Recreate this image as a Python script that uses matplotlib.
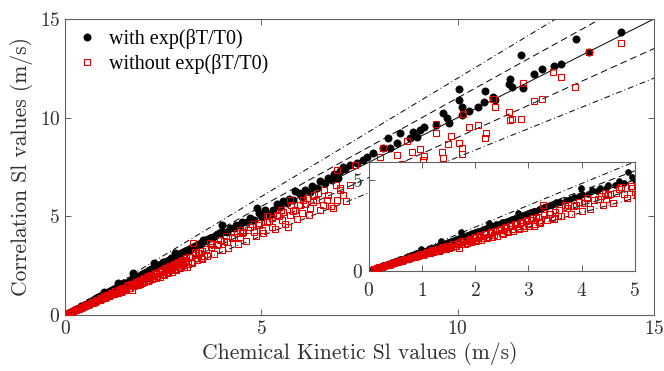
import matplotlib
matplotlib.use("Agg")
import matplotlib.pyplot as plt
import numpy as np

# laminar flame speed, (chemical kinetic value, correlation value) in m/s
with_x = [0.05, 0.1, 0.15, 0.2, 0.25, 0.3, 0.35, 0.4, 0.45, 0.5, 0.55, 0.6, 0.68, 0.75, 0.8,
          0.9, 0.98, 1.1, 1.2, 1.3, 1.36, 1.45, 1.55, 1.65, 1.74, 1.85, 1.95, 2.05, 2.15, 2.27,
          2.4, 2.5, 2.6, 2.7, 2.8, 2.9, 3.0, 3.1, 3.2, 3.3, 3.4, 3.52, 3.57, 3.78, 3.95, 3.99,
          4.12, 4.29, 4.46, 4.63, 4.8, 4.88, 5.01, 5.22, 5.3, 5.47, 5.64, 5.81, 5.86, 6.03,
          6.24, 6.41, 6.62, 6.79, 6.96, 7.09, 7.13, 7.26, 7.43, 7.6, 7.68, 7.85, 8.1, 8.23,
          8.28, 8.45, 8.53, 8.79, 8.87, 8.96, 9.04, 9.15, 9.45, 9.63, 9.72, 9.78, 10.04, 10.04,
          10.12, 10.12, 10.3, 10.52, 10.68, 10.7, 10.89, 10.89, 10.95, 11.31, 11.33, 11.38,
          11.62, 11.65, 11.94, 12.14, 12.44, 12.63, 13.0, 13.34, 14.16]
with_y = [0.05, 0.11, 0.16, 0.21, 0.27, 0.32, 0.37, 0.43, 0.48, 0.53, 0.58, 0.64, 0.67, 0.8, 0.85,
          0.96, 1.18, 1.17, 1.28, 1.39, 1.64, 1.53, 1.64, 1.75, 2.11, 1.97, 2.07, 2.18, 2.28, 2.62,
          2.55, 2.66, 2.76, 2.87, 3.16, 3.08, 3.18, 3.29, 3.4, 3.5, 3.6, 3.8, 3.8, 3.97, 4.14, 4.56,
          4.22, 4.39, 4.56, 4.73, 4.81, 5.41, 4.98, 5.07, 5.32, 5.49, 5.66, 5.83, 6.3, 6.0,
          6.25, 6.42, 6.67, 6.84, 6.93, 7.52, 7.38, 7.6, 7.69, 7.86, 8.02, 8.2, 8.45, 8.96,
          8.45, 8.7, 9.21, 8.96, 9.29, 9.04, 9.38, 9.54, 9.63, 10.22, 9.97, 9.72, 11.44, 10.9,
          10.53, 10.15, 10.35, 10.56, 10.81, 11.35, 11.06, 11.01, 10.9, 11.71, 11.95, 11.57,
          13.18, 11.52, 12.21, 12.48, 12.64, 12.72, 13.99, 13.31, 14.36]
# crowded part of the black band (mostly hidden under the red squares)
with_dense_x = [0.08, 0.22, 0.28, 0.42, 0.48, 0.62, 0.7, 0.85, 0.95, 1.05, 1.15, 1.25, 1.33, 1.42,
                1.5, 1.6, 1.7, 1.8, 1.9, 2.0, 2.1, 2.2, 2.32, 2.45, 2.55, 2.65, 2.75, 2.85, 2.95,
                3.05, 3.15, 3.25, 3.35, 3.45, 3.6, 3.7, 3.85, 4.0, 4.2, 4.35, 4.5, 4.7, 4.95, 5.1,
                5.4, 5.55, 5.7, 5.95, 6.1, 6.3, 6.5, 6.7, 6.85, 7.0]
with_dense_y = [0.09, 0.23, 0.3, 0.44, 0.5, 0.66, 0.74, 0.9, 1.0, 1.1, 1.21, 1.3, 1.4, 1.5,
                1.6, 1.68, 1.8, 1.88, 2.0, 2.12, 2.2, 2.33, 2.44, 2.6, 2.7, 2.8, 2.9, 3.02, 3.12,
                3.22, 3.3, 3.45, 3.55, 3.62, 3.8, 3.9, 4.05, 4.2, 4.42, 4.55, 4.7, 4.92, 5.15, 5.3,
                5.6, 5.78, 5.9, 6.2, 6.33, 6.55, 6.8, 6.95, 7.15, 7.3]

without_x = [0.05, 0.1, 0.12, 0.18, 0.2, 0.25, 0.3, 0.32, 0.38, 0.4, 0.45, 0.5, 0.52, 0.58, 0.6,
             0.65, 0.7, 0.72, 0.78, 0.8, 0.85, 0.9, 0.92, 0.98, 1.0, 1.05, 1.1, 1.12, 1.2, 1.22,
             1.3, 1.35, 1.4, 1.45, 1.5, 1.55, 1.6, 1.65, 1.7, 1.72, 1.8, 1.85, 1.9, 1.95, 2.0,
             2.05, 2.1, 2.15, 2.2, 2.25, 2.3, 2.35, 2.42, 2.45, 2.5, 2.55, 2.6, 2.65, 2.7, 2.75,
             2.8, 2.85, 2.9, 2.95, 3.0, 3.05, 3.1, 3.15, 3.2, 3.27, 3.3, 3.35, 3.4, 3.45, 3.5,
             3.55, 3.69, 3.86, 3.95, 4.12, 4.24, 4.37, 4.46, 4.54, 4.71, 4.8, 4.92, 5.01, 5.14,
             5.26, 5.26, 5.39, 5.52, 5.56, 5.69, 5.73, 5.73, 5.86, 5.98, 6.03, 6.15, 6.24, 6.32,
             6.45, 6.58, 6.66, 6.83, 6.92, 6.92, 7.0, 7.09, 7.38, 8.02, 8.1, 8.28, 8.45, 8.57,
             8.72, 8.83, 8.91, 9.04, 9.12, 9.15, 9.17, 9.4, 9.45, 9.45, 9.59, 9.63, 9.74, 9.82,
             10.02, 10.1, 10.1, 10.13, 10.3, 10.52, 10.69, 10.72, 10.91, 10.95, 11.31, 11.33,
             11.39, 11.6, 11.65, 11.94, 12.14, 12.43, 12.63, 12.98, 13.34, 14.16]
without_y = [0.05, 0.09, 0.11, 0.16, 0.19, 0.23, 0.28, 0.3, 0.34, 0.37, 0.42, 0.46, 0.49, 0.53, 0.56,
             0.6, 0.66, 0.63, 0.72, 0.75, 0.78, 0.84, 0.8, 0.92, 0.95, 0.9, 1.03, 0.97, 1.12, 1.05,
             1.2, 1.12, 1.3, 1.22, 1.38, 1.3, 1.5, 1.38, 1.27, 1.58, 1.66, 1.52, 1.75, 1.62, 1.86,
             1.7, 1.95, 1.78, 2.04, 1.85, 2.15, 1.96, 1.94, 2.25, 2.1, 2.38, 2.2, 2.45, 2.28, 2.55,
             2.35, 2.62, 2.45, 2.75, 2.55, 2.8, 2.45, 2.92, 2.7, 3.63, 3.05, 2.8, 3.12, 2.9, 3.25,
             3.0, 3.63, 3.55, 3.8, 3.72, 3.89, 4.14, 3.97, 4.22, 4.48, 4.22, 4.65, 4.31, 4.73,
             4.9, 4.48, 5.07, 4.81, 5.24, 4.48, 5.83, 5.07, 5.32, 5.58, 5.15, 5.91, 5.41, 5.74,
             6.17, 5.58, 5.83, 5.41, 7.35, 5.83, 6.42, 6.08, 7.6, 8.02, 8.48, 7.55, 8.11, 7.64,
             8.83, 8.28, 7.52, 8.41, 7.86, 8.06, 7.55, 7.52, 9.68, 9.21, 8.28, 7.97, 8.65, 9.09,
             8.7, 8.45, 8.15, 10.17, 9.51, 9.61, 8.96, 9.24, 10.95, 10.56, 10.3, 9.88,
             9.95, 9.95, 11.74, 10.86, 10.96, 12.33, 12.08, 11.54, 13.31, 13.8]
# crowded part of the red band
without_dense_x = [0.15, 0.28, 0.35, 0.42, 0.48, 0.55, 0.62, 0.68, 0.75, 0.82, 0.88, 0.95, 1.02,
                   1.08, 1.15, 1.18, 1.25, 1.28, 1.32, 1.38, 1.42, 1.48, 1.52, 1.58, 1.62, 1.68,
                   1.75, 1.78, 1.82, 1.88, 1.92, 1.98, 2.02, 2.08, 2.12, 2.18, 2.22, 2.28, 2.32,
                   2.38, 2.48, 2.52, 2.58, 2.62, 2.68, 2.72, 2.78, 2.82, 2.88, 2.92, 2.98, 3.02,
                   3.08, 3.12, 3.18, 3.22, 3.38, 3.48, 3.58, 3.62, 3.72, 3.8, 3.9, 4.0, 4.05, 4.15,
                   4.3, 4.4, 4.5, 4.6, 4.65, 4.85, 4.95, 5.05, 5.2, 5.35, 5.45, 5.6, 5.8, 5.9, 6.1,
                   6.2, 6.4, 6.5, 6.7, 6.78, 7.0, 7.15, 7.25,
                   3.3, 3.75, 4.1, 4.45, 4.75, 5.15, 5.5, 5.75, 6.05, 6.35, 6.6, 6.9]
without_dense_y = [0.14, 0.25, 0.32, 0.38, 0.45, 0.5, 0.55, 0.64, 0.67, 0.77, 0.76, 0.88, 0.88,
                   1.0, 1.0, 1.1, 1.08, 1.2, 1.1, 1.28, 1.18, 1.36, 1.27, 1.45, 1.35, 1.55,
                   1.45, 1.64, 1.5, 1.72, 1.58, 1.82, 1.65, 1.92, 1.72, 2.0, 1.8, 2.1, 1.88,
                   2.18, 2.3, 2.05, 2.4, 2.12, 2.48, 2.18, 2.58, 2.3, 2.68, 2.38, 2.78, 2.45,
                   2.88, 2.6, 2.95, 2.65, 3.15, 2.85, 3.35, 3.0, 3.45, 3.1, 3.6, 3.3, 3.75, 3.4,
                   3.95, 3.6, 4.15, 3.75, 4.3, 4.0, 4.55, 4.15, 4.75, 4.35, 5.0, 4.6, 5.25, 4.85, 5.6,
                   5.05, 5.85, 5.3, 6.1, 5.5, 6.35, 5.8, 6.6,
                   3.2, 3.6, 4.0, 4.3, 4.6, 5.0, 5.3, 5.55, 5.85, 6.1, 6.35, 6.6]

# reference lines y = k*x
ratios = [1.0, 1.1, 0.9, 1.2, 0.8]
styles = ["-", (0, (7, 4)), (0, (7, 4)), (0, (6, 3, 1, 3)), (0, (6, 3, 1, 3))]

plt.rcParams["font.family"] = ["cmr10", "DejaVu Serif"]
plt.rcParams["axes.formatter.use_mathtext"] = True
spine_col = "#606060"
txt_col = "#303030"
red = "#e00000"


def draw(ax, xmax, ms_c, ms_s):
    xs = np.array([0, xmax])
    for k, ls in zip(ratios, styles):
        ax.plot(xs, k * xs, color="black", lw=0.7, linestyle=ls, zorder=1)
    ax.plot(with_dense_x, with_dense_y, "o", color="black", ms=ms_c, mew=0.5, zorder=2)
    ax.plot(with_x, with_y, "o", color="black", ms=ms_c, mew=0.5, zorder=2,
            label="with exp(βT/T0)")
    ax.plot(without_dense_x, without_dense_y, "s", color=red, mfc="none", ms=ms_s, mew=0.8,
            zorder=3)
    ax.plot(without_x, without_y, "s", color=red, mfc="none", ms=ms_s, mew=0.8,
            zorder=3, label="without exp(βT/T0)")
    for s in ax.spines.values():
        s.set_color(spine_col)
    ax.tick_params(direction="in", top=True, right=True, length=4, width=0.7,
                   color=spine_col, labelcolor=txt_col, labelsize=14)


fig = plt.figure(figsize=(6.64, 3.71), dpi=100)
ax = fig.add_axes([0.098, 0.151, 0.887, 0.798])
draw(ax, 15, 5.2, 4.6)
ax.set_xlim(0, 15)
ax.set_ylim(0, 15)
ax.set_xticks([0, 5, 10, 15])
ax.set_yticks([0, 5, 10, 15])
ax.set_xlabel("Chemical Kinetic Sl values (m/s)", fontsize=15.5, color=txt_col, labelpad=3)
ax.set_ylabel("Correlation Sl values (m/s)", fontsize=15.5, color=txt_col, labelpad=5)
leg = ax.legend(loc="upper left", frameon=False, handletextpad=0.5, borderaxespad=0.1,
                labelspacing=0.25, handlelength=1.2,
                prop={"family": ["Liberation Serif"], "size": 14.5})

inset = fig.add_axes([0.555, 0.27, 0.401, 0.294])
draw(inset, 5, 4.2, 4.2)
inset.set_xlim(0, 5)
inset.set_ylim(0, 6)
inset.set_xticks([0, 1, 2, 3, 4, 5])
inset.set_yticks([0, 5])
inset.tick_params(axis="x", pad=8)
inset.tick_params(axis="y", pad=4)

fig.savefig("out.png", dpi=100)
